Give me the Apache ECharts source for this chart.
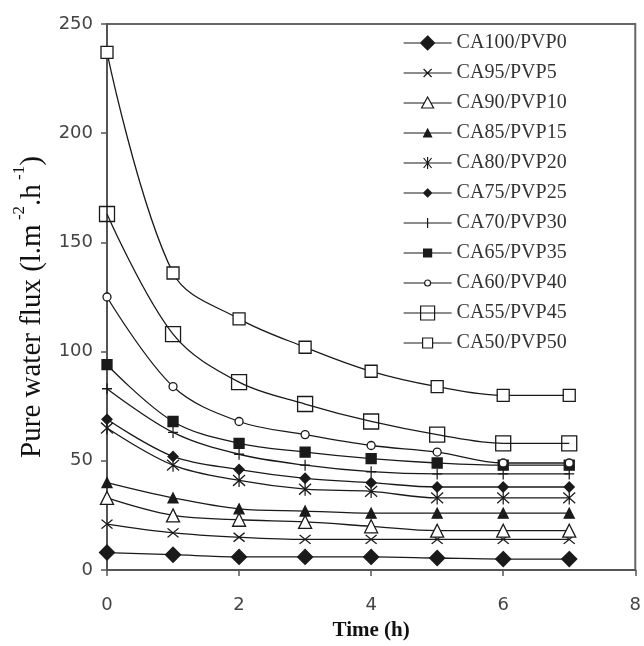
<!DOCTYPE html>
<html>
<head>
<meta charset="utf-8">
<script src="https://cdn.jsdelivr.net/npm/echarts@6/dist/echarts.min.js"></script>
<style>
html,body{margin:0;padding:0;background:#fff;}
#c{width:644px;height:646px;}
</style>
</head>
<body>
<div id="c"></div>
<script>
var times = [0, 1, 2, 3, 4, 5, 6, 7];
var xTicks = [0, 2, 4, 6, 8];
var yTicks = [0, 50, 100, 150, 200, 250];

var names = ['CA100/PVP0','CA95/PVP5','CA90/PVP10','CA85/PVP15','CA80/PVP20','CA75/PVP25','CA70/PVP30','CA65/PVP35','CA60/PVP40','CA55/PVP45','CA50/PVP50'];

var ca100 = [8, 7, 6, 6, 6, 5.5, 5, 5];
var ca95  = [21, 17, 15, 14, 14, 14, 14, 14];
var ca90  = [33, 25, 23, 22, 20, 18, 18, 18];
var ca85  = [40, 33, 28, 27, 26, 26, 26, 26];
var ca80  = [65, 48, 41, 37, 36, 33, 33, 33];
var ca75  = [69, 52, 46, 42, 40, 38, 38, 38];
var ca70  = [83, 63, 53, 48, 45, 44, 44, 44];
var ca65  = [94, 68, 58, 54, 51, 49, 48, 48];
var ca60  = [125, 84, 68, 62, 57, 54, 49, 49];
var ca55  = [163, 108, 86, 76, 68, 62, 58, 58];
var ca50  = [237, 136, 115, 102, 91, 84, 80, 80];

var values = [ca100, ca95, ca90, ca85, ca80, ca75, ca70, ca65, ca60, ca55, ca50];

var K = '#1a1a1a';
var markers = [
  {symbol:'diamond', size:15, fill:K},
  {symbol:'path://M0,0L10,10M10,0L0,10', size:[11,9], fill:K},
  {symbol:'triangle', size:13, fill:'#fff'},
  {symbol:'triangle', size:10, fill:K},
  {symbol:'path://M0,0L10,10M10,0L0,10M5,-1L5,11', size:[12,13], fill:K},
  {symbol:'diamond', size:10, fill:K},
  {symbol:'path://M5,0L5,10M0,5L10,5', size:[10,11], fill:K},
  {symbol:'rect', size:10, fill:K},
  {symbol:'circle', size:8, fill:'#fff'},
  {symbol:'rect', size:15, fill:'transparent'},
  {symbol:'rect', size:12, fill:'#fff'}
];

// legend icons: line + marker drawn in a 48x16 box
var EXT = 'M0,0M48,16';
var FULL = 'M0,8L48,8';
var legendIcons = [
  'path://' + EXT + 'M0,8L17,8M31,8L48,8M24,1L31,8L24,15L17,8Z',
  'path://' + EXT + FULL + 'M20,4L28,12M28,4L20,12',
  'path://' + EXT + 'M0,8L20.7,8M27.3,8L48,8M24,2L30,13L18,13Z',
  'path://' + EXT + FULL + 'M24,4L28,12L20,12Z',
  'path://' + EXT + FULL + 'M20,3L28,13M28,3L20,13M24,2L24,14',
  'path://' + EXT + FULL + 'M24,4L28,8L24,12L20,8Z',
  'path://' + EXT + FULL + 'M24,3L24,13',
  'path://' + EXT + FULL + 'M20,4L28,4L28,12L20,12Z',
  'path://' + EXT + 'M0,8L21,8M27,8L48,8M27,8A3,3,0,1,1,21,8A3,3,0,1,1,27,8Z',
  'path://' + EXT + FULL + 'M17,1L31,1L31,15L17,15Z',
  'path://' + EXT + 'M0,8L19,8M29,8L48,8M19,3L29,3L29,13L19,13Z'
];

var series = names.map(function(n, i){
  return {
    name: n,
    type: 'line',
    smooth: 0.35,
    data: times.map(function(t, j){ return [t, values[i][j]]; }),
    symbol: markers[i].symbol,
    symbolSize: markers[i].size,
    showAllSymbol: true,
    lineStyle: {color: K, width: 1.3},
    itemStyle: {color: markers[i].fill, borderColor: K, borderWidth: 1.3},
    emphasis: {disabled: true},
    z: 2 + i
  };
});

var chart = echarts.init(document.getElementById('c'), null, {renderer:'canvas'});
chart.setOption({
  animation: false,
  backgroundColor: '#fff',
  grid: {left: 107, right: 3, top: 24, bottom: 76, show: true, borderColor: '#666', borderWidth: 2},
  legend: {
    orient: 'vertical',
    left: 398,
    top: 28,
    itemWidth: 48,
    itemHeight: 16,
    itemGap: 10,
    selectedMode: false,
    itemStyle: {borderColor: K, borderWidth: 1.2},
    textStyle: {fontFamily: 'Liberation Serif', fontSize: 20, color: '#333'},
    data: names.map(function(n, i){ return {name: n, icon: legendIcons[i]}; })
  },
  xAxis: {
    type: 'value',
    min: xTicks[0],
    max: xTicks[xTicks.length - 1],
    interval: xTicks[1] - xTicks[0],
    name: 'Time (h)',
    nameLocation: 'middle',
    nameGap: 50,
    nameTextStyle: {fontFamily: 'Liberation Serif', fontSize: 21, color: '#111', fontWeight: 'bold'},
    axisLine: {lineStyle: {color: '#555', width: 2}},
    axisTick: {show: true, length: 6, lineStyle: {color: '#555', width: 1.5}},
    axisLabel: {fontFamily: 'DejaVu Sans', fontSize: 18, color: '#444', margin: 26},
    splitLine: {show: false}
  },
  yAxis: {
    type: 'value',
    min: yTicks[0],
    max: yTicks[yTicks.length - 1],
    interval: yTicks[1] - yTicks[0],
    name: '{a|Pure water flux (l.m}{s| -2}{a|.h}{s| -1}{a|)}',
    nameLocation: 'middle',
    nameGap: 60,
    nameRotate: 90,
    nameTextStyle: {
      padding: [0, 20, 0, 0],
      rich: {
        a: {fontFamily: 'Liberation Serif', fontSize: 29, color: '#111', lineHeight: 36, verticalAlign: 'bottom'},
        s: {fontFamily: 'Liberation Serif', fontSize: 17, color: '#111', lineHeight: 36, verticalAlign: 'top'}
      }
    },
    axisLine: {show: true, lineStyle: {color: '#555', width: 2}},
    axisTick: {show: true, length: 6, lineStyle: {color: '#555', width: 1.5}},
    axisLabel: {fontFamily: 'DejaVu Sans', fontSize: 18, color: '#444', margin: 14},
    splitLine: {show: false}
  },
  series: series
});
</script>
</body>
</html>
